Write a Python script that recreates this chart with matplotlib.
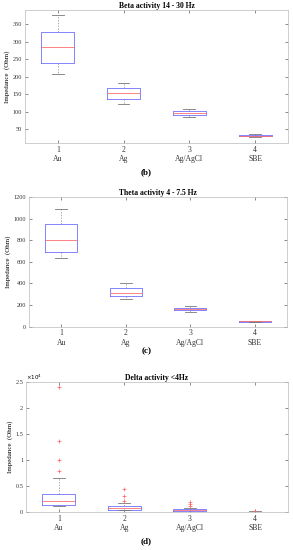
import numpy as np
import matplotlib.pyplot as plt

plt.rcParams['font.family'] = ['Liberation Serif', 'DejaVu Serif']

electrodes = ['Au', 'Ag', 'Ag/AgCl', 'SBE']

# box stats per electrode: (low whisker, q1, median, q3, high whisker)
beta_stats = [(207, 238, 285, 327, 376),
              (123, 136, 152, 167, 182),
              (84, 89, 95, 101, 107),
              (28, 29, 31, 33, 35)]
theta_stats = [(634, 695, 797, 945, 1086),
               (258, 286, 314, 360, 400),
               (140, 150, 162, 175, 188),
               (46, 48, 50, 53, 56)]
delta_stats = [(1150, 1400, 2100, 3550, 6450),
               (300, 450, 700, 1080, 1660),
               (100, 180, 300, 500, 800),
               (20, 40, 60, 90, 140)]
delta_outliers = [[7800, 9900, 13700, 24000],
                  [2200, 3000, 4400],
                  [1100, 1500, 2000],
                  [250]]

titles = ['Beta activity 14 - 30 Hz', 'Theta activity 4 - 7.5 Hz', 'Delta activity <4Hz']
letters = ['(b)', '(c)', '(d)']


def make_stats(stats, outliers=None):
    out = []
    for i, (lo, q1, med, q3, hi) in enumerate(stats):
        out.append(dict(whislo=lo, q1=q1, med=med, q3=q3, whishi=hi,
                        fliers=outliers[i] if outliers else []))
    return out


fig = plt.figure(figsize=(2.93, 5.50), dpi=100)
rects = [[0.085, 0.740, 0.898, 0.242],
         [0.099, 0.406, 0.881, 0.236],
         [0.089, 0.069, 0.894, 0.237]]
all_stats = [(beta_stats, None), (theta_stats, None), (delta_stats, delta_outliers)]
ylims = [(10, 391), (0, 1200), (0, 25000)]
label_y = [0.683, 0.358, 0.012]

for k in range(3):
    ax = fig.add_axes(rects[k])
    st, ol = all_stats[k]
    ax.bxp(make_stats(st, ol), positions=[1, 2, 3, 4], widths=0.5, capwidths=0.18,
           boxprops=dict(color='#6f6fff', linewidth=0.6),
           medianprops=dict(color='#ff6f6f', linewidth=0.6),
           whiskerprops=dict(color='#888888', linewidth=0.5, linestyle=(0, (2, 2))),
           capprops=dict(color='#777777', linewidth=0.6),
           flierprops=dict(marker='+', markeredgecolor='#ff6060', markersize=2.5,
                           markeredgewidth=0.5, linestyle='none'))
    ax.set_xlim(0.5, 4.5)
    ax.set_ylim(*ylims[k])
    ax.set_xticks([1, 2, 3, 4])
    ax.set_xticklabels([f'{i + 1}\n{e}' for i, e in enumerate(electrodes)], fontsize=5.5)
    ax.tick_params(axis='both', direction='in', length=2, width=0.4, colors='#333333',
                   labelsize=4.5, top=True, right=True, pad=2)
    ax.tick_params(axis='x', labelsize=5.5)
    for s in ax.spines.values():
        s.set_color('#bbbbbb')
        s.set_linewidth(0.5)
    ax.set_title(titles[k], fontsize=5.5, fontweight='bold', pad=1.5)
    ax.set_ylabel('Impedance  (Ohm)', fontsize=5, labelpad=2)
    if k == 2:
        ax.set_yticks([0, 5000, 10000, 15000, 20000, 25000])
        ax.set_yticklabels(['0', '0.5', '1', '1.5', '2', '2.5'])
        ax.text(0.0, 1.0, r'$\times10^4$', transform=ax.transAxes, fontsize=4,
                va='bottom', ha='left')
    fig.text(0.5, label_y[k], letters[k], fontsize=6.5, fontweight='bold', ha='center')

fig.savefig('out.png', dpi=100)
